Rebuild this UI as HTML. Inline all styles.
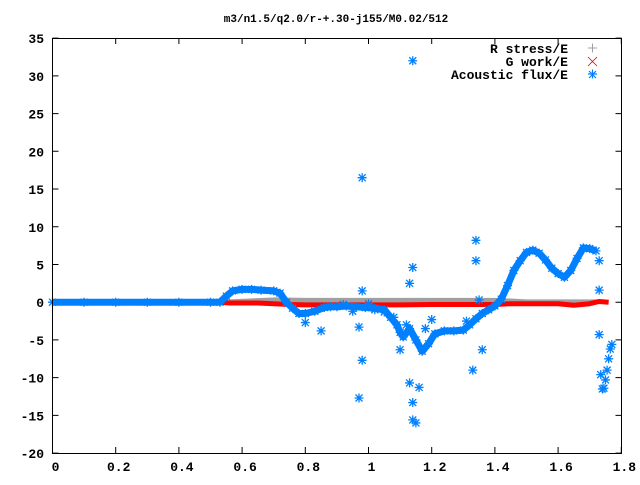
<!DOCTYPE html>
<html><head><meta charset="utf-8"><style>
body{margin:0;background:#fff}
svg text{font-family:"Liberation Mono",monospace;font-weight:bold;font-size:13px;fill:#000}
svg text.title{font-size:11px}
</style></head><body>
<svg id="chart" width="640" height="480" xmlns="http://www.w3.org/2000/svg">
<rect width="640" height="480" fill="#fff"/>
<text class="title" x="336" y="22" text-anchor="middle">m3/n1.5/q2.0/r-+.30-j155/M0.02/512</text>
<g id="axes"></g>
<g id="series"></g>
<g id="legend">
<text x="568" y="53" text-anchor="end">R stress/E</text>
<text x="568" y="66" text-anchor="end">G work/E</text>
<text x="568" y="79" text-anchor="end">Acoustic flux/E</text>
<path d="M588 48h9M592.5 43.5v9" stroke="#a0a0a0"/>
<path d="M588 57l9 9M597 57l-9 9" stroke="#e00000" stroke-width="0.8"/>
<path d="M588 74h9M592.5 69.5v9M589 71l7 7M596 71l-7 7" stroke="#0080ff" stroke-width="1.2"/>
</g>
<rect x="52.5" y="38.5" width="569" height="415" fill="none" stroke="#000"/>
</svg>
<script>
const xTicks=[0,0.2,0.4,0.6,0.8,1,1.2,1.4,1.6,1.8];
const xTickLabels=["0","0.2","0.4","0.6","0.8","1","1.2","1.4","1.6","1.8"];
const yTicks=[-20,-15,-10,-5,0,5,10,15,20,25,30,35];
const fluxX=[0,0.1,0.2,0.3,0.4,0.5,0.53,0.55,0.57,0.6,0.63,0.66,0.7,0.72,0.74,0.76,0.78,0.8,0.83,0.86,0.88,0.9,0.93,0.96,0.99,1.02,1.05,1.07,1.09,1.1,1.11,1.13,1.15,1.17,1.19,1.21,1.24,1.27,1.3,1.32,1.34,1.36,1.38,1.4,1.42,1.44,1.46,1.48,1.5,1.52,1.54,1.56,1.58,1.6,1.62,1.64,1.66,1.68,1.7,1.72];
const fluxY=[0,0,0,0,0,0,0,0.8,1.5,1.7,1.7,1.6,1.5,1.2,0,-0.8,-1.5,-1.5,-1.2,-0.7,-0.6,-0.6,-0.5,-0.6,-0.7,-0.8,-1,-2,-3,-4,-4.6,-3.5,-5,-6.5,-5.5,-4.2,-3.8,-3.8,-3.7,-3,-2.2,-1.5,-1,-0.5,0.4,2.2,4.2,5.5,6.6,6.9,6.5,5.6,4.5,3.8,3.3,4.2,5.8,7.2,7.1,6.8];
const outX=[1.14,0.98,0.98,0.97,0.98,0.97,0.85,0.8,1.13,1.14,1.13,1.16,1.14,1.14,1.15,1.1,1.34,1.34,1.36,1.33,1.73,1.73,1.73,1.735,1.74,1.745,1.75,1.755,1.76,1.765,1.77,0.92,0.95,1.0,1.02,1.05,1.08,1.12,1.2,1.18,1.35,1.31];
const outY=[32,16.5,1.5,-3.3,-7.7,-12.7,-3.8,-2.7,2.5,4.6,-10.7,-11.3,-13.3,-15.6,-16,-6.3,8.2,5.5,-6.3,-9,5.5,1.6,-4.3,-9.6,-11.5,-11.4,-10.3,-9,-7.5,-6.2,-5.6,-0.3,-1.2,-0.2,-1.0,-1.3,-2.0,-3.0,-2.3,-3.5,0.3,-2.5];
const redX=[0,0.53,0.56,0.6,0.65,0.7,0.75,0.8,0.9,1,1.1,1.2,1.3,1.4,1.45,1.5,1.6,1.65,1.7,1.73,1.76];
const redY=[0,0,-0.1,-0.1,-0.1,-0.2,-0.3,-0.35,-0.35,-0.35,-0.35,-0.3,-0.3,-0.3,-0.2,-0.2,-0.2,-0.4,-0.2,0.1,0];
const grayX=[0,0.53,0.7,0.8,1,1.2,1.4,1.5,1.6,1.72];
const grayY=[0,0,0.3,0.25,0.25,0.25,0.25,0.05,0.05,0.05];
const NS="http://www.w3.org/2000/svg";
const X=v=>52.5+v*316;
const Y=v=>302.2-v*7.545;
const axes=document.getElementById('axes'),ser=document.getElementById('series');
function mk(t,a,p){const e=document.createElementNS(NS,t);for(const k in a)e.setAttribute(k,a[k]);p.appendChild(e);return e;}
xTicks.forEach((v,i)=>{
 const g=mk('g',{},axes);
 
 
 mk('path',{d:`M${X(v)} 453v-6M${X(v)} 38v6`,stroke:'#000'},g);
 const t=mk('text',{x:X(v)+3,y:471,'text-anchor':'middle'},g);t.textContent=xTickLabels[i];
});
yTicks.forEach(v=>{
 const g=mk('g',{},axes);
 
 
 mk('path',{d:`M52.5 ${Y(v)}h6M621.5 ${Y(v)}h-6`,stroke:'#000'},g);
 const t=mk('text',{x:44,y:Y(v)+5,'text-anchor':'end'},g);t.textContent=v;
});
function line(xs,ys,col,w,name){
 const p=mk('polyline',{points:xs.map((x,i)=>X(x)+','+Y(ys[i])).join(' '),fill:'none',stroke:col,'stroke-width':w,'stroke-linejoin':'round'},ser);
 
 
}
function star(x,y,name){
 const cx=X(x),cy=Y(y);
 const p=mk('path',{d:`M${cx-4.5} ${cy}h9M${cx} ${cy-4.5}v9M${cx-3.5} ${cy-3.5}l7 7M${cx+3.5} ${cy-3.5}l-7 7`,stroke:'#0080ff','stroke-width':1.3},ser);
 
 
}
line(grayX,grayY,'#a0a0a0',5,'r-stress-series');
line(redX,redY,'#ff0000',5,'g-work-series');
line(fluxX,fluxY,'#0080ff',7,'acoustic-flux-series');
fluxX.forEach((x,i)=>star(x,fluxY[i],'acoustic-flux-point'));
outX.forEach((x,i)=>star(x,outY[i],'acoustic-flux-outlier'));
</script>
</body></html>
